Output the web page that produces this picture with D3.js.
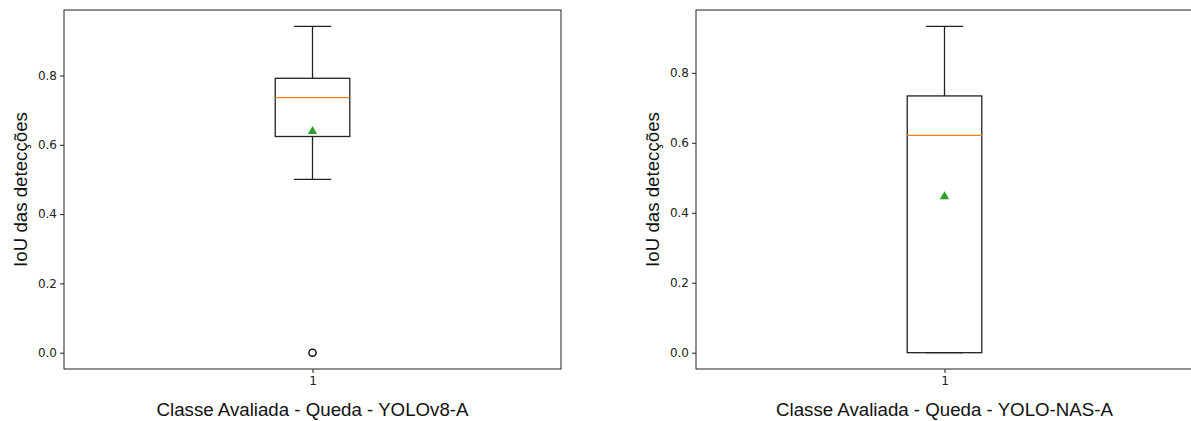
<!DOCTYPE html>
<html>
<head>
<meta charset="utf-8">
<script src="https://cdn.jsdelivr.net/npm/d3@7"></script>
<style>
  body { margin: 0; background: #fff; }
  svg { display: block; }
  .lbl { font-family: "Liberation Sans", Arial, sans-serif; font-size: 18.7px; fill: #111; }
</style>
</head>
<body>
<div id="chart"></div>
<script>
// summary stats, one entry per model
const models = ["YOLOv8-A", "YOLO-NAS-A"]
const whiskerLow = [0.50, 0.0]
const q1 = [0.624, 0.0]
const medians = [0.736, 0.621]
const q3 = [0.792, 0.734]
const whiskerHigh = [0.942, 0.933]
const means = [0.639, 0.446]
const outliers = [[0.0], []]
const yTicks = [0.0, 0.2, 0.4, 0.6, 0.8]
const xCategories = [1]

const width = 1191, height = 421
const panelLeft = [64, 696]
const plotW = 497, plotTop = 10, plotBottom = 369

const svg = d3.select("#chart").append("svg")
    .attr("width", width)
    .attr("height", height)

function styleAxis(a, stroke) {
    a.select(".domain").remove()
    a.selectAll(".tick line").attr("stroke", stroke)
    a.selectAll(".tick text")
        .attr("fill", "#222")
        .style("font-family", "'DejaVu Sans', sans-serif")
        .style("font-size", "12px")
}

models.forEach((m, i) => {
    const g = svg.append("g")

    // y domain like matplotlib: data range + 5% margin
    const lo = d3.min([whiskerLow[i], ...outliers[i]])
    const hi = d3.max([whiskerHigh[i], ...outliers[i]])
    const pad = (hi - lo) * 0.05

    const y = d3.scaleLinear()
        .domain([lo - pad, hi + pad])
        .range([plotBottom, plotTop])

    const x = d3.scaleLinear()
        .domain([0.5, 1.5])
        .range([panelLeft[i], panelLeft[i] + plotW])

    const boxW = 0.15 // data units, matplotlib default
    const stroke = "#222"

    // axes
    g.append("g")
        .attr("transform", `translate(${panelLeft[i]},0)`)
        .call(d3.axisLeft(y).tickValues(yTicks).tickFormat(d3.format(".1f")).tickSize(4).tickPadding(3))
        .call(a => styleAxis(a, stroke))

    g.append("g")
        .attr("transform", `translate(0,${plotBottom})`)
        .call(d3.axisBottom(x).tickValues(xCategories).tickFormat(d3.format("d")).tickSize(4).tickPadding(3))
        .call(a => styleAxis(a, stroke))

    // frame
    g.append("rect")
        .attr("x", panelLeft[i]).attr("y", plotTop)
        .attr("width", plotW).attr("height", plotBottom - plotTop)
        .attr("fill", "none").attr("stroke", stroke).attr("stroke-width", 1)

    const cx = x(1)

    // whiskers
    g.append("line").attr("x1", cx).attr("x2", cx)
        .attr("y1", y(q3[i])).attr("y2", y(whiskerHigh[i]))
        .attr("stroke", stroke).attr("stroke-width", 1.3)
    g.append("line").attr("x1", cx).attr("x2", cx)
        .attr("y1", y(q1[i])).attr("y2", y(whiskerLow[i]))
        .attr("stroke", stroke).attr("stroke-width", 1.3)

    // caps
    ;[whiskerLow[i], whiskerHigh[i]].forEach(v => {
        g.append("line")
            .attr("x1", x(1 - boxW / 4)).attr("x2", x(1 + boxW / 4))
            .attr("y1", y(v)).attr("y2", y(v))
            .attr("stroke", stroke).attr("stroke-width", 1.3)
    })

    // box
    g.append("rect")
        .attr("x", x(1 - boxW / 2))
        .attr("y", y(q3[i]))
        .attr("width", x(1 + boxW / 2) - x(1 - boxW / 2))
        .attr("height", y(q1[i]) - y(q3[i]))
        .attr("fill", "none").attr("stroke", stroke).attr("stroke-width", 1.3)

    // median
    g.append("line")
        .attr("x1", x(1 - boxW / 2)).attr("x2", x(1 + boxW / 2))
        .attr("y1", y(medians[i])).attr("y2", y(medians[i]))
        .attr("stroke", "#ff7f0e").attr("stroke-width", 1.3)

    // mean
    g.append("path")
        .attr("d", d3.symbol(d3.symbolTriangle, 38)())
        .attr("transform", `translate(${cx},${y(means[i])})`)
        .attr("fill", "#2ca02c")

    // fliers
    g.selectAll("circle.flier").data(outliers[i]).enter()
        .append("circle")
        .attr("class", "flier")
        .attr("cx", cx).attr("cy", d => y(d))
        .attr("r", 3.6)
        .attr("fill", "none").attr("stroke", "#000").attr("stroke-width", 1.4)

    // labels
    g.append("text").attr("class", "lbl")
        .attr("text-anchor", "middle")
        .attr("transform", `translate(${panelLeft[i] - 44},${(plotTop + plotBottom) / 2}) rotate(-90)`)
        .attr("dy", "0.35em")
        .text("IoU das detecções")

    g.append("text").attr("class", "lbl")
        .attr("text-anchor", "middle")
        .attr("x", panelLeft[i] + plotW / 2)
        .attr("y", 416)
        .text("Classe Avaliada - Queda - " + m)
})
</script>
</body>
</html>
